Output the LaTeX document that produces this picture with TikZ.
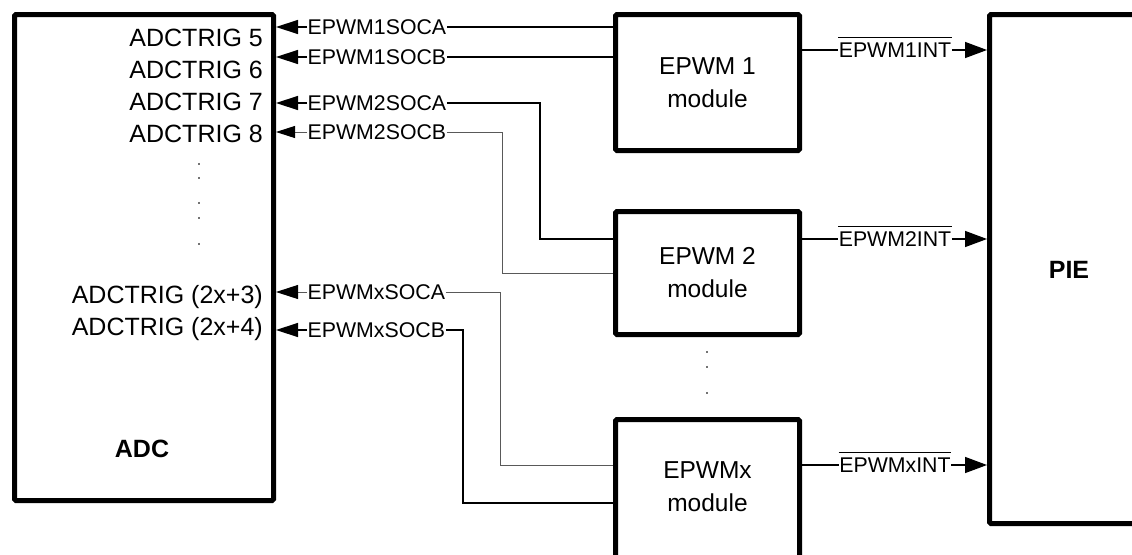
\documentclass[tikz,border=0pt]{standalone}
\usepackage{fontspec}
\setmainfont{Liberation Sans}
\usetikzlibrary{arrows.meta}
\begin{document}
\begin{tikzpicture}[x=1pt,y=-1pt,
  blockbox/.style={draw, line width=5pt, rounded corners=1.5pt, inner sep=0pt, align=center,
    font=\fontsize{24.5}{33}\selectfont},
  blocktxt/.style={inner sep=0pt, align=center, font=\fontsize{24.5}{33}\selectfont},
  bigtxt/.style={font=\fontsize{25}{30}\selectfont, inner sep=0pt},
  boldtxt/.style={font=\fontsize{25}{30}\selectfont\bfseries, inner sep=0pt},
  soclbl/.style={font=\fontsize{21.3}{25}\selectfont, inner sep=0.5pt, anchor=west},
  intlbl/.style={font=\fontsize{21.3}{25}\selectfont, inner sep=0.5pt},
  conn/.style={line width=1.4pt, black},
  thinconn/.style={line width=0.9pt, black!65},
  tipA/.style={-{Triangle[length=22pt,width=14pt,color=black]}},
  tipB/.style={-{Triangle[length=19pt,width=12pt,color=black]}},
  tipI/.style={-{Triangle[length=22pt,width=16pt,color=black]}},
  dotmark/.style={line width=1.6pt, black!55}
]
\useasboundingbox (0,0) rectangle (1132,554);
\clip (0,0) rectangle (1132,554);

% blocks
\node[blockbox, minimum width=259pt, minimum height=486pt] (adc) at (144,257.5) {};
\node[blockbox, minimum width=184pt, minimum height=136pt] (e1) at (707.5,82.5) {EPWM 1\\module};
\node[blockbox, minimum width=184pt, minimum height=123pt] (e2) at (707.5,273) {EPWM 2\\module};
\node[blockbox, minimum width=184pt, minimum height=160pt] (ex) at (707.5,499.5) {};
\node[blocktxt] (exlbl) at (707.5,487) {EPWMx\\module};
\node[blockbox, minimum width=158pt, minimum height=509pt] (pie) at (1068.5,269) {};
\node[boldtxt] (pielbl) at (1069,270) {PIE};
\node[boldtxt] (adclbl) at (142,449) {ADC};

% ADC trigger labels
\node[bigtxt, anchor=base east] (t5) at (263,46) {ADCTRIG 5};
\node[bigtxt, anchor=base east] (t6) at (263,78) {ADCTRIG 6};
\node[bigtxt, anchor=base east] (t7) at (263,110) {ADCTRIG 7};
\node[bigtxt, anchor=base east] (t8) at (263,142) {ADCTRIG 8};
\node[bigtxt, anchor=base east] (t9) at (263,303) {ADCTRIG (2x+3)};
\node[bigtxt, anchor=base east] (t10) at (263,335) {ADCTRIG (2x+4)};

% SOC labels
\node[soclbl] (s1a) at (307,27) {EPWM1SOCA};
\node[soclbl] (s1b) at (307,57) {EPWM1SOCB};
\node[soclbl] (s2a) at (307,103) {EPWM2SOCA};
\node[soclbl] (s2b) at (307,132) {EPWM2SOCB};
\node[soclbl] (sxa) at (307,292) {EPWMxSOCA};
\node[soclbl] (sxb) at (307,330) {EPWMxSOCB};

% corner coordinates
\coordinate (c2a) at (540,239);
\coordinate (c2b) at (502,273);
\coordinate (cxa) at (500,465);
\coordinate (cxb) at (463,503);

% SOC connectors
\draw[conn] (e1.west |- s1a) -- (s1a.east);
\draw[conn,tipA] (s1a.west) -- (adc.east |- s1a);
\draw[conn] (e1.west |- s1b) -- (s1b.east);
\draw[conn,tipA] (s1b.west) -- (adc.east |- s1b);

\draw[conn] (s2a.east) -| (c2a) -- (e2.west |- c2a);
\draw[conn,tipA] (s2a.west) -- (adc.east |- s2a);
\draw[thinconn] (s2b.east) -| (c2b) -- (e2.west |- c2b);
\draw[thinconn,tipB] (s2b.west) -- (adc.east |- s2b);

\draw[thinconn] (sxa.east) -| (cxa) -- (ex.west |- cxa);
\draw[thinconn,tipA] (sxa.west) -- (adc.east |- sxa);
\draw[conn] (sxb.east) -| (cxb) -- (ex.west |- cxb);
\draw[conn,tipA] (sxb.west) -- (adc.east |- sxb);

% INT labels and connectors
\node[intlbl] (i1) at (895,50) {EPWM1INT};
\node[intlbl] (i2) at (895,239) {EPWM2INT};
\node[intlbl] (ix) at (895,465) {EPWMxINT};
\foreach \n/\s in {i1/e1, i2/e2, ix/ex}{
  \draw[conn] (\s.east |- \n) -- (\n.west);
  \draw[conn,tipI] (\n.east) -- (pie.west |- \n);
  \draw[line width=1pt] ([yshift=4.5pt]\n.north west) -- ([yshift=4.5pt]\n.north east);
}

% ellipsis dots
\foreach \yy in {164,178,203,218,244}{
  \draw[dotmark] (199,\yy-1.2) -- (199,\yy+1.2);
}
\foreach \yy in {352,367,393}{
  \draw[dotmark] (707,\yy-1.2) -- (707,\yy+1.2);
}
\end{tikzpicture}
\end{document}
